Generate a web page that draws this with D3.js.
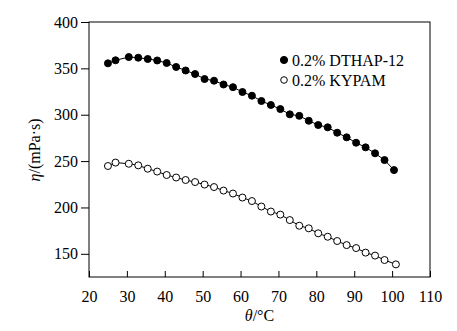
<!DOCTYPE html>
<html>
<head>
<meta charset="utf-8">
<script src="https://cdn.jsdelivr.net/npm/d3@7/dist/d3.min.js"></script>
<style>
  html, body { margin: 0; padding: 0; background: #fff; }
  svg { display: block; }
  text { font-family: "Liberation Serif", "Times New Roman", serif; fill: #000; }
</style>
</head>
<body>
<div id="chart"></div>
<script>
// Temperature (°C)
const tempDTHAP = [25, 27, 30.5, 33, 35.5, 38, 40.5, 43, 45.5, 48, 50.5, 53, 55.5, 58, 60.5, 63, 65.5, 68, 70.5, 73, 75.5, 78, 80.5, 83, 85.5, 88, 90.5, 93, 95.5, 98, 100.5];
const etaDTHAP  = [355.4, 358.7, 362.2, 361.5, 360.1, 358.5, 355.8, 351.5, 347.7, 343.9, 338.5, 336.7, 332.6, 329.7, 324.5, 320.5, 314.8, 310.5, 306.1, 300.4, 298.8, 293.5, 288.9, 286.4, 280.6, 275.6, 269.8, 264.8, 258.4, 251.1, 240.3];
const tempKYPAM = [25, 27, 30.5, 33, 35.5, 38, 40.5, 43, 45.5, 48, 50.5, 53, 55.5, 58, 60.5, 63, 65.5, 68, 70.5, 73, 75.5, 78, 80.5, 83, 85.5, 88, 90.5, 93, 95.5, 98, 101];
const etaKYPAM  = [244.7, 248.4, 247.1, 245.4, 241.8, 238.7, 235.0, 232.3, 229.6, 227.4, 224.7, 222.0, 218.2, 215.0, 210.7, 206.9, 201.0, 195.6, 192.3, 186.4, 180.3, 177.5, 172.1, 168.4, 163.8, 159.4, 156.2, 151.3, 148.1, 143.3, 138.6];
const seriesNames = ["0.2% DTHAP-12", "0.2% KYPAM"];
const xTicks = [20, 30, 40, 50, 60, 70, 80, 90, 100, 110];
const yTicks = [150, 200, 250, 300, 350, 400];

const W = 457, H = 331;
const margin = { left: 89, right: 27, top: 22, bottom: 54 };
const svg = d3.select("#chart").append("svg").attr("width", W).attr("height", H);

const x = d3.scaleLinear().domain([20, 110]).range([margin.left, W - margin.right]);
const y = d3.scaleLinear().domain([125, 400]).range([H - margin.bottom, margin.top]);

// frame
svg.append("rect")
  .attr("x", margin.left).attr("y", margin.top)
  .attr("width", W - margin.left - margin.right)
  .attr("height", H - margin.top - margin.bottom)
  .attr("fill", "none").attr("stroke", "#000").attr("stroke-width", 1);

// x axis (ticks inward)
const xAxis = svg.append("g")
  .attr("transform", `translate(0,${H - margin.bottom})`)
  .call(d3.axisBottom(x).tickValues(xTicks).tickSizeInner(-6).tickSizeOuter(0).tickPadding(14));
xAxis.select(".domain").remove();
xAxis.selectAll("text").style("font-size", "16px").attr("fill", "#000");
xAxis.selectAll("line").attr("stroke", "#000");

// y axis (ticks outward)
const yAxis = svg.append("g")
  .attr("transform", `translate(${margin.left},0)`)
  .call(d3.axisLeft(y).tickValues(yTicks).tickSizeInner(8).tickSizeOuter(0).tickPadding(3));
yAxis.select(".domain").remove();
yAxis.selectAll("text").style("font-size", "16px").attr("fill", "#000");
yAxis.selectAll("line").attr("stroke", "#000");

// axis titles
const xt = svg.append("text")
  .attr("x", x(65)).attr("y", 321)
  .attr("text-anchor", "middle").style("font-size", "16px");
xt.append("tspan").style("font-style", "italic").text("θ");
xt.append("tspan").text("/°C");

const yt = svg.append("text")
  .attr("transform", `translate(40,${y(262)}) rotate(-90)`)
  .attr("text-anchor", "middle").style("font-size", "16px");
yt.append("tspan").style("font-style", "italic").text("η");
yt.append("tspan").text("/(mPa·s)");

const line = d3.line().x(d => x(d[0])).y(d => y(d[1]));

const dataA = tempDTHAP.map((t, i) => [t, etaDTHAP[i]]);
const dataB = tempKYPAM.map((t, i) => [t, etaKYPAM[i]]);

[[dataA, "#000"], [dataB, "#fff"]].forEach(([data, fill]) => {
  svg.append("path").datum(data).attr("d", line)
    .attr("fill", "none").attr("stroke", "#000").attr("stroke-width", 1);
  svg.append("g").selectAll("circle").data(data).join("circle")
    .attr("cx", d => x(d[0])).attr("cy", d => y(d[1])).attr("r", 3.5)
    .attr("fill", fill).attr("stroke", "#000").attr("stroke-width", 1);
});

// legend
const legend = svg.append("g");
seriesNames.forEach((name, i) => {
  const ly = 60 + i * 20;
  legend.append("circle").attr("cx", 284).attr("cy", ly).attr("r", i === 0 ? 3.6 : 3.3)
    .attr("fill", i === 0 ? "#000" : "#fff").attr("stroke", "#000").attr("stroke-width", 1);
  legend.append("text").attr("x", 292).attr("y", ly + 5.5).style("font-size", "16px").text(name);
});
</script>
</body>
</html>
